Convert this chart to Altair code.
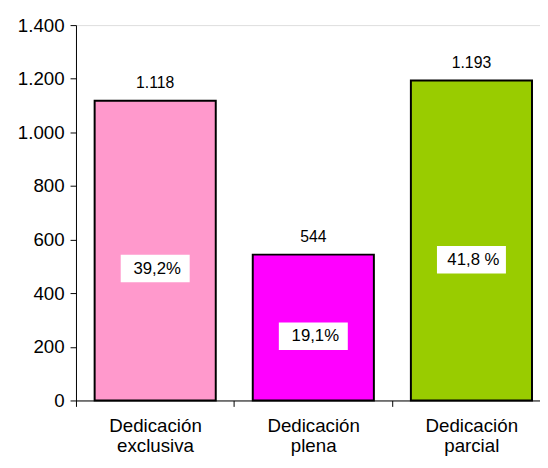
import json
import altair as alt
import pandas as pd

categories = ["Dedicación exclusiva", "Dedicación plena", "Dedicación parcial"]
values = [1118, 544, 1193]
value_labels = ["1.118", "544", "1.193"]
pct_labels = ["39,2%", "19,1%", "41,8 %"]
colors = ["#FF99CC", "#FF00FF", "#99CC00"]

df = pd.DataFrame({
    "idx": list(range(len(categories))),
    "cat": categories,
    "val": values,
    "vlab": value_labels,
    "plab": pct_labels,
    "color": colors,
})

FONT = "Liberation Sans"
PLOT_W = 471
STEP_PX = 160.5           # width of one category slot in pixels
BAR_PAD = 0.118           # gap before a bar, as a fraction of the slot
BAR_W = 0.766             # bar width, as a fraction of the slot
LABEL_FRAC = 0.44         # height of the percentage box relative to bar value

x_scale = alt.Scale(domain=[0, PLOT_W / STEP_PX], nice=False, zero=False, padding=0)
y_scale = alt.Scale(domain=[0, 1400], nice=False, padding=0)

names_expr = json.dumps(categories, ensure_ascii=False)

x_axis = alt.Axis(
    values=[0.5, 1.5, 2.5],
    labelExpr=f"split({names_expr}[floor(datum.value)], ' ')",
    labelAngle=0,
    labelFont=FONT,
    labelFontSize=19,
    labelColor="black",
    labelLineHeight=20,
    labelPadding=11,
    labelBaseline="top",
    labelAlign="center",
    labelOffset=STEP_PX / 2,
    tickOffset=-STEP_PX / 2,
    tickSize=6,
    tickColor="black",
    domainColor="black",
    domainWidth=1,
    grid=False,
    labelFlush=False,
    labelOverlap=False,
)

base = alt.Chart(df).transform_calculate(
    x0=f"datum.idx + {BAR_PAD}",
    x1=f"datum.idx + {BAR_PAD + BAR_W}",
    xc=f"datum.idx + {BAR_PAD + BAR_W / 2}",
    pos=f"datum.val * {LABEL_FRAC}",
)

bars = base.mark_bar(stroke="black", strokeWidth=2).encode(
    x=alt.X("x0:Q", scale=x_scale, title=None, axis=x_axis),
    x2="x1:Q",
    y=alt.Y(
        "val:Q",
        scale=y_scale,
        title=None,
        axis=alt.Axis(
            values=[0, 200, 400, 600, 800, 1000, 1200, 1400],
            labelExpr="replace(format(datum.value, ','), ',', '.')",
            labelFont=FONT,
            labelFontSize=19,
            labelColor="black",
            labelPadding=6,
            tickSize=6,
            tickColor="black",
            domainColor="black",
            grid=False,
        ),
    ),
    y2=alt.datum(0),
    color=alt.Color("color:N", scale=None),
)

top_text = base.mark_text(
    font=FONT, fontSize=16, color="black", baseline="alphabetic", dy=-13
).encode(
    x=alt.X("xc:Q", scale=x_scale),
    y=alt.Y("val:Q", scale=y_scale),
    text="vlab:N",
)

boxes = base.mark_point(
    shape="M-1,-0.4L1,-0.4L1,0.4L-1,0.4Z",
    filled=True,
    color="white",
    opacity=1,
    size=4900,
    strokeWidth=0,
).encode(x=alt.X("xc:Q", scale=x_scale), y=alt.Y("pos:Q", scale=y_scale))

pct_text = base.mark_text(
    font=FONT, fontSize=17, color="black", baseline="middle", dx=2
).encode(
    x=alt.X("xc:Q", scale=x_scale),
    y=alt.Y("pos:Q", scale=y_scale),
    text="plab:N",
)

chart = (
    alt.layer(bars, top_text, boxes, pct_text)
    .properties(
        width=PLOT_W,
        height=381,
        autosize=alt.AutoSizeParams(type="none"),
        padding={"left": 69, "top": 14, "right": 0, "bottom": 53},
    )
    .configure_view(stroke=None)
    .configure(background="white")
)

chart.save("out.html", embed_options={"renderer": "svg", "actions": False})
